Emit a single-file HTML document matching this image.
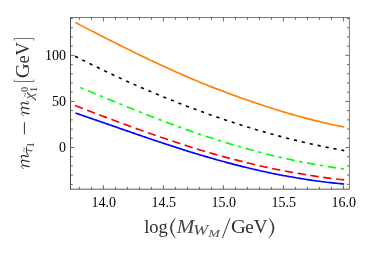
<!DOCTYPE html>
<html><head><meta charset="utf-8"><style>
html,body{margin:0;padding:0;background:#fff;}
body{width:374px;height:254px;overflow:hidden;}
svg{display:block;will-change:transform;}
text{font-family:"Liberation Serif",serif;fill:#2e2e2e;}
.tk{font-size:14px;fill:#000;}
.it{font-style:italic;fill:#444;}
</style></head><body>
<svg width="374" height="254" viewBox="0 0 374 254">
<rect width="374" height="254" fill="#fff"/>
<g>
<path d="M75.50 22.59 L77.43 23.60 L79.37 24.61 L81.30 25.61 L83.23 26.62 L85.17 27.62 L87.10 28.62 L89.03 29.61 L90.96 30.61 L92.90 31.60 L94.83 32.59 L96.76 33.58 L98.70 34.57 L100.63 35.55 L102.56 36.53 L104.50 37.51 L106.43 38.49 L108.36 39.47 L110.30 40.44 L112.23 41.41 L114.16 42.38 L116.09 43.34 L118.03 44.31 L119.96 45.28 L121.89 46.24 L123.83 47.20 L125.76 48.17 L127.69 49.12 L129.63 50.08 L131.56 51.03 L133.49 51.98 L135.43 52.92 L137.36 53.87 L139.29 54.81 L141.23 55.74 L143.16 56.68 L145.09 57.61 L147.02 58.53 L148.96 59.46 L150.89 60.38 L152.82 61.29 L154.76 62.21 L156.69 63.12 L158.62 64.03 L160.56 64.92 L162.49 65.81 L164.42 66.69 L166.36 67.57 L168.29 68.44 L170.22 69.31 L172.15 70.18 L174.09 71.04 L176.02 71.90 L177.95 72.75 L179.89 73.60 L181.82 74.45 L183.75 75.29 L185.69 76.13 L187.62 76.97 L189.55 77.80 L191.49 78.62 L193.42 79.45 L195.35 80.26 L197.28 81.08 L199.22 81.89 L201.15 82.69 L203.08 83.49 L205.02 84.29 L206.95 85.08 L208.88 85.85 L210.82 86.61 L212.75 87.37 L214.68 88.12 L216.62 88.87 L218.55 89.62 L220.48 90.35 L222.42 91.09 L224.35 91.82 L226.28 92.54 L228.21 93.26 L230.15 93.98 L232.08 94.69 L234.01 95.39 L235.95 96.09 L237.88 96.79 L239.81 97.48 L241.75 98.16 L243.68 98.84 L245.61 99.51 L247.55 100.18 L249.48 100.84 L251.41 101.50 L253.34 102.15 L255.28 102.81 L257.21 103.48 L259.14 104.13 L261.08 104.78 L263.01 105.43 L264.94 106.07 L266.88 106.70 L268.81 107.33 L270.74 107.95 L272.68 108.57 L274.61 109.18 L276.54 109.78 L278.47 110.38 L280.41 110.97 L282.34 111.56 L284.27 112.14 L286.21 112.71 L288.14 113.28 L290.07 113.84 L292.01 114.40 L293.94 114.95 L295.87 115.49 L297.81 116.03 L299.74 116.56 L301.67 117.09 L303.61 117.61 L305.54 118.12 L307.47 118.63 L309.40 119.13 L311.34 119.63 L313.27 120.12 L315.20 120.60 L317.14 121.07 L319.07 121.54 L321.00 122.00 L322.94 122.46 L324.87 122.91 L326.80 123.35 L328.74 123.78 L330.67 124.21 L332.60 124.63 L334.53 125.04 L336.47 125.45 L338.40 125.84 L340.33 126.23 L342.27 126.62 L344.20 126.99" fill="none" stroke="#ff7f00" stroke-width="1.65"/>
<path d="M75.10 56.26 L77.04 57.25 L78.97 58.23 L80.91 59.21 L82.84 60.18 L84.78 61.15 L86.72 62.12 L88.65 63.08 L90.59 64.03 L92.52 64.99 L94.46 65.94 L96.40 66.88 L98.33 67.82 L100.27 68.76 L102.20 69.69 L104.14 70.62 L106.08 71.54 L108.01 72.46 L109.95 73.37 L111.88 74.28 L113.82 75.19 L115.76 76.09 L117.69 76.99 L119.63 77.88 L121.56 78.77 L123.50 79.65 L125.44 80.53 L127.37 81.41 L129.31 82.28 L131.24 83.15 L133.18 84.01 L135.12 84.87 L137.05 85.72 L138.99 86.57 L140.92 87.42 L142.86 88.26 L144.79 89.10 L146.73 89.93 L148.67 90.76 L150.60 91.58 L152.54 92.40 L154.47 93.21 L156.41 94.02 L158.35 94.83 L160.28 95.63 L162.22 96.43 L164.15 97.22 L166.09 98.01 L168.03 98.79 L169.96 99.57 L171.90 100.34 L173.83 101.11 L175.77 101.88 L177.71 102.64 L179.64 103.40 L181.58 104.15 L183.51 104.90 L185.45 105.64 L187.39 106.38 L189.32 107.11 L191.26 107.84 L193.19 108.57 L195.13 109.29 L197.07 110.00 L199.00 110.71 L200.94 111.42 L202.87 112.12 L204.81 112.82 L206.75 113.51 L208.68 114.20 L210.62 114.89 L212.55 115.56 L214.49 116.24 L216.43 116.91 L218.36 117.57 L220.30 118.23 L222.23 118.89 L224.17 119.54 L226.11 120.19 L228.04 120.83 L229.98 121.47 L231.91 122.10 L233.85 122.73 L235.79 123.35 L237.72 123.97 L239.66 124.59 L241.59 125.20 L243.53 125.80 L245.47 126.40 L247.40 127.00 L249.34 127.59 L251.27 128.17 L253.21 128.75 L255.15 129.33 L257.08 129.90 L259.02 130.47 L260.95 131.03 L262.89 131.59 L264.83 132.14 L266.76 132.69 L268.70 133.23 L270.63 133.77 L272.57 134.30 L274.51 134.83 L276.44 135.36 L278.38 135.87 L280.31 136.39 L282.25 136.90 L284.18 137.40 L286.12 137.90 L288.06 138.40 L289.99 138.89 L291.93 139.37 L293.86 139.85 L295.80 140.33 L297.74 140.80 L299.67 141.27 L301.61 141.73 L303.54 142.18 L305.48 142.63 L307.42 143.08 L309.35 143.52 L311.29 143.96 L313.22 144.39 L315.16 144.82 L317.10 145.24 L319.03 145.65 L320.97 146.07 L322.90 146.47 L324.84 146.88 L326.78 147.27 L328.71 147.66 L330.65 148.05 L332.58 148.43 L334.52 148.81 L336.46 149.18 L338.39 149.55 L340.33 149.91 L342.26 150.27 L344.20 150.62" fill="none" stroke="#000000" stroke-width="1.6" stroke-dasharray="3.2 4.896"/>
<path d="M80.50 87.60 L82.40 88.39 L84.29 89.18 L86.19 89.98 L88.09 90.77 L89.99 91.56 L91.88 92.35 L93.78 93.14 L95.68 93.93 L97.57 94.71 L99.47 95.50 L101.37 96.28 L103.27 97.07 L105.16 97.85 L107.06 98.63 L108.96 99.41 L110.85 100.19 L112.75 100.97 L114.65 101.74 L116.55 102.52 L118.44 103.29 L120.34 104.06 L122.24 104.84 L124.13 105.61 L126.03 106.38 L127.93 107.15 L129.83 107.92 L131.72 108.68 L133.62 109.45 L135.52 110.21 L137.41 110.97 L139.31 111.72 L141.21 112.48 L143.11 113.23 L145.00 113.98 L146.90 114.73 L148.80 115.48 L150.69 116.22 L152.59 116.95 L154.49 117.68 L156.38 118.41 L158.28 119.14 L160.18 119.86 L162.08 120.58 L163.97 121.30 L165.87 122.01 L167.77 122.72 L169.66 123.43 L171.56 124.14 L173.46 124.84 L175.36 125.54 L177.25 126.24 L179.15 126.93 L181.05 127.63 L182.94 128.31 L184.84 129.00 L186.74 129.68 L188.64 130.36 L190.53 131.03 L192.43 131.71 L194.33 132.38 L196.22 133.04 L198.12 133.70 L200.02 134.36 L201.92 134.99 L203.81 135.61 L205.71 136.23 L207.61 136.84 L209.50 137.45 L211.40 138.06 L213.30 138.66 L215.20 139.26 L217.09 139.86 L218.99 140.45 L220.89 141.04 L222.78 141.62 L224.68 142.20 L226.58 142.78 L228.48 143.35 L230.37 143.92 L232.27 144.48 L234.17 145.04 L236.06 145.60 L237.96 146.16 L239.86 146.71 L241.76 147.26 L243.65 147.81 L245.55 148.35 L247.45 148.89 L249.34 149.42 L251.24 149.95 L253.14 150.47 L255.04 150.99 L256.93 151.50 L258.83 152.01 L260.73 152.51 L262.62 153.01 L264.52 153.50 L266.42 153.99 L268.32 154.47 L270.21 154.95 L272.11 155.40 L274.01 155.86 L275.90 156.30 L277.80 156.74 L279.70 157.18 L281.59 157.61 L283.49 158.04 L285.39 158.45 L287.29 158.87 L289.18 159.28 L291.08 159.68 L292.98 160.07 L294.87 160.46 L296.77 160.85 L298.67 161.23 L300.57 161.61 L302.46 161.99 L304.36 162.38 L306.26 162.75 L308.15 163.12 L310.05 163.49 L311.95 163.85 L313.85 164.20 L315.74 164.54 L317.64 164.88 L319.54 165.21 L321.43 165.54 L323.33 165.86 L325.23 166.17 L327.13 166.47 L329.02 166.77 L330.92 167.06 L332.82 167.35 L334.71 167.63 L336.61 167.90 L338.51 168.16 L340.41 168.42 L342.30 168.67 L344.20 168.92" fill="none" stroke="#00ff00" stroke-width="1.65" stroke-dasharray="3.3 4.72 8.48 4.52"/>
<path d="M75.05 105.59 L76.99 106.34 L78.92 107.08 L80.86 107.82 L82.80 108.56 L84.73 109.30 L86.67 110.04 L88.60 110.78 L90.54 111.52 L92.48 112.25 L94.41 112.98 L96.35 113.72 L98.29 114.45 L100.22 115.18 L102.16 115.91 L104.09 116.63 L106.03 117.36 L107.97 118.08 L109.90 118.81 L111.84 119.54 L113.78 120.27 L115.71 121.00 L117.65 121.72 L119.59 122.45 L121.52 123.17 L123.46 123.89 L125.39 124.61 L127.33 125.33 L129.27 126.04 L131.20 126.75 L133.14 127.47 L135.08 128.17 L137.01 128.87 L138.95 129.56 L140.89 130.25 L142.82 130.94 L144.76 131.62 L146.69 132.30 L148.63 132.98 L150.57 133.66 L152.50 134.33 L154.44 135.00 L156.38 135.67 L158.31 136.34 L160.25 137.00 L162.18 137.66 L164.12 138.32 L166.06 138.97 L167.99 139.63 L169.93 140.28 L171.87 140.92 L173.80 141.56 L175.74 142.20 L177.68 142.84 L179.61 143.48 L181.55 144.11 L183.48 144.73 L185.42 145.36 L187.36 145.98 L189.29 146.59 L191.23 147.21 L193.17 147.82 L195.10 148.43 L197.04 149.03 L198.98 149.63 L200.91 150.22 L202.85 150.79 L204.78 151.36 L206.72 151.92 L208.66 152.48 L210.59 153.04 L212.53 153.60 L214.47 154.14 L216.40 154.69 L218.34 155.23 L220.27 155.77 L222.21 156.30 L224.15 156.83 L226.08 157.36 L228.02 157.88 L229.96 158.40 L231.89 158.91 L233.83 159.42 L235.77 159.92 L237.70 160.42 L239.64 160.92 L241.57 161.41 L243.51 161.89 L245.45 162.37 L247.38 162.85 L249.32 163.32 L251.26 163.79 L253.19 164.25 L255.13 164.71 L257.07 165.16 L259.00 165.61 L260.94 166.06 L262.87 166.49 L264.81 166.93 L266.75 167.36 L268.68 167.78 L270.62 168.19 L272.56 168.59 L274.49 168.98 L276.43 169.37 L278.36 169.75 L280.30 170.13 L282.24 170.50 L284.17 170.87 L286.11 171.23 L288.05 171.58 L289.98 171.93 L291.92 172.28 L293.86 172.62 L295.79 172.95 L297.73 173.27 L299.66 173.60 L301.60 173.93 L303.54 174.27 L305.47 174.60 L307.41 174.92 L309.35 175.24 L311.28 175.55 L313.22 175.86 L315.16 176.15 L317.09 176.45 L319.03 176.73 L320.96 177.02 L322.90 177.29 L324.84 177.56 L326.77 177.82 L328.71 178.08 L330.65 178.32 L332.58 178.57 L334.52 178.80 L336.45 179.03 L338.39 179.26 L340.33 179.47 L342.26 179.68 L344.20 179.88" fill="none" stroke="#ff0000" stroke-width="1.65" stroke-dasharray="8.4 4.546"/>
<path d="M75.50 113.06 L77.43 113.72 L79.37 114.38 L81.30 115.04 L83.23 115.70 L85.17 116.36 L87.10 117.03 L89.03 117.69 L90.96 118.36 L92.90 119.02 L94.83 119.69 L96.76 120.35 L98.70 121.02 L100.63 121.69 L102.56 122.36 L104.50 123.02 L106.43 123.69 L108.36 124.36 L110.30 125.03 L112.23 125.71 L114.16 126.39 L116.09 127.07 L118.03 127.74 L119.96 128.42 L121.89 129.10 L123.83 129.78 L125.76 130.45 L127.69 131.13 L129.63 131.81 L131.56 132.48 L133.49 133.15 L135.43 133.83 L137.36 134.49 L139.29 135.15 L141.23 135.81 L143.16 136.46 L145.09 137.12 L147.02 137.77 L148.96 138.43 L150.89 139.08 L152.82 139.73 L154.76 140.38 L156.69 141.03 L158.62 141.67 L160.56 142.31 L162.49 142.96 L164.42 143.60 L166.36 144.23 L168.29 144.87 L170.22 145.50 L172.15 146.13 L174.09 146.76 L176.02 147.39 L177.95 148.02 L179.89 148.64 L181.82 149.26 L183.75 149.88 L185.69 150.49 L187.62 151.10 L189.55 151.71 L191.49 152.32 L193.42 152.91 L195.35 153.49 L197.28 154.07 L199.22 154.64 L201.15 155.21 L203.08 155.78 L205.02 156.35 L206.95 156.91 L208.88 157.47 L210.82 158.02 L212.75 158.58 L214.68 159.12 L216.62 159.67 L218.55 160.21 L220.48 160.75 L222.42 161.28 L224.35 161.81 L226.28 162.33 L228.21 162.85 L230.15 163.37 L232.08 163.88 L234.01 164.39 L235.95 164.89 L237.88 165.39 L239.81 165.88 L241.75 166.36 L243.68 166.84 L245.61 167.32 L247.55 167.79 L249.48 168.26 L251.41 168.72 L253.34 169.18 L255.28 169.63 L257.21 170.07 L259.14 170.52 L261.08 170.95 L263.01 171.38 L264.94 171.81 L266.88 172.23 L268.81 172.64 L270.74 173.05 L272.68 173.44 L274.61 173.83 L276.54 174.21 L278.47 174.59 L280.41 174.96 L282.34 175.33 L284.27 175.69 L286.21 176.04 L288.14 176.39 L290.07 176.73 L292.01 177.06 L293.94 177.39 L295.87 177.71 L297.81 178.03 L299.74 178.34 L301.67 178.66 L303.61 178.98 L305.54 179.29 L307.47 179.59 L309.40 179.89 L311.34 180.18 L313.27 180.47 L315.20 180.74 L317.14 181.01 L319.07 181.27 L321.00 181.53 L322.94 181.77 L324.87 182.01 L326.80 182.25 L328.74 182.47 L330.67 182.69 L332.60 182.90 L334.53 183.10 L336.47 183.29 L338.40 183.48 L340.33 183.66 L342.27 183.83 L344.20 183.99" fill="none" stroke="#0000ff" stroke-width="1.65"/>
</g>
<g stroke="#5a5a5a" stroke-width="0.9" fill="none">
<line x1="79.40" y1="189.2" x2="79.40" y2="186.79999999999998"/>
<line x1="79.40" y1="17.5" x2="79.40" y2="19.9"/>
<line x1="91.40" y1="189.2" x2="91.40" y2="186.79999999999998"/>
<line x1="91.40" y1="17.5" x2="91.40" y2="19.9"/>
<line x1="103.40" y1="189.2" x2="103.40" y2="185.2"/>
<line x1="103.40" y1="17.5" x2="103.40" y2="21.5"/>
<line x1="115.40" y1="189.2" x2="115.40" y2="186.79999999999998"/>
<line x1="115.40" y1="17.5" x2="115.40" y2="19.9"/>
<line x1="127.40" y1="189.2" x2="127.40" y2="186.79999999999998"/>
<line x1="127.40" y1="17.5" x2="127.40" y2="19.9"/>
<line x1="139.40" y1="189.2" x2="139.40" y2="186.79999999999998"/>
<line x1="139.40" y1="17.5" x2="139.40" y2="19.9"/>
<line x1="151.40" y1="189.2" x2="151.40" y2="186.79999999999998"/>
<line x1="151.40" y1="17.5" x2="151.40" y2="19.9"/>
<line x1="163.40" y1="189.2" x2="163.40" y2="185.2"/>
<line x1="163.40" y1="17.5" x2="163.40" y2="21.5"/>
<line x1="175.40" y1="189.2" x2="175.40" y2="186.79999999999998"/>
<line x1="175.40" y1="17.5" x2="175.40" y2="19.9"/>
<line x1="187.40" y1="189.2" x2="187.40" y2="186.79999999999998"/>
<line x1="187.40" y1="17.5" x2="187.40" y2="19.9"/>
<line x1="199.40" y1="189.2" x2="199.40" y2="186.79999999999998"/>
<line x1="199.40" y1="17.5" x2="199.40" y2="19.9"/>
<line x1="211.40" y1="189.2" x2="211.40" y2="186.79999999999998"/>
<line x1="211.40" y1="17.5" x2="211.40" y2="19.9"/>
<line x1="223.40" y1="189.2" x2="223.40" y2="185.2"/>
<line x1="223.40" y1="17.5" x2="223.40" y2="21.5"/>
<line x1="235.40" y1="189.2" x2="235.40" y2="186.79999999999998"/>
<line x1="235.40" y1="17.5" x2="235.40" y2="19.9"/>
<line x1="247.40" y1="189.2" x2="247.40" y2="186.79999999999998"/>
<line x1="247.40" y1="17.5" x2="247.40" y2="19.9"/>
<line x1="259.40" y1="189.2" x2="259.40" y2="186.79999999999998"/>
<line x1="259.40" y1="17.5" x2="259.40" y2="19.9"/>
<line x1="271.40" y1="189.2" x2="271.40" y2="186.79999999999998"/>
<line x1="271.40" y1="17.5" x2="271.40" y2="19.9"/>
<line x1="283.40" y1="189.2" x2="283.40" y2="185.2"/>
<line x1="283.40" y1="17.5" x2="283.40" y2="21.5"/>
<line x1="295.40" y1="189.2" x2="295.40" y2="186.79999999999998"/>
<line x1="295.40" y1="17.5" x2="295.40" y2="19.9"/>
<line x1="307.40" y1="189.2" x2="307.40" y2="186.79999999999998"/>
<line x1="307.40" y1="17.5" x2="307.40" y2="19.9"/>
<line x1="319.40" y1="189.2" x2="319.40" y2="186.79999999999998"/>
<line x1="319.40" y1="17.5" x2="319.40" y2="19.9"/>
<line x1="331.40" y1="189.2" x2="331.40" y2="186.79999999999998"/>
<line x1="331.40" y1="17.5" x2="331.40" y2="19.9"/>
<line x1="343.40" y1="189.2" x2="343.40" y2="185.2"/>
<line x1="343.40" y1="17.5" x2="343.40" y2="21.5"/>
<line x1="70.45" y1="184.36" x2="72.85000000000001" y2="184.36"/>
<line x1="349.4" y1="184.36" x2="347.0" y2="184.36"/>
<line x1="70.45" y1="175.14" x2="72.85000000000001" y2="175.14"/>
<line x1="349.4" y1="175.14" x2="347.0" y2="175.14"/>
<line x1="70.45" y1="165.93" x2="72.85000000000001" y2="165.93"/>
<line x1="349.4" y1="165.93" x2="347.0" y2="165.93"/>
<line x1="70.45" y1="156.71" x2="72.85000000000001" y2="156.71"/>
<line x1="349.4" y1="156.71" x2="347.0" y2="156.71"/>
<line x1="70.45" y1="147.50" x2="74.45" y2="147.50"/>
<line x1="349.4" y1="147.50" x2="345.4" y2="147.50"/>
<line x1="70.45" y1="138.29" x2="72.85000000000001" y2="138.29"/>
<line x1="349.4" y1="138.29" x2="347.0" y2="138.29"/>
<line x1="70.45" y1="129.07" x2="72.85000000000001" y2="129.07"/>
<line x1="349.4" y1="129.07" x2="347.0" y2="129.07"/>
<line x1="70.45" y1="119.86" x2="72.85000000000001" y2="119.86"/>
<line x1="349.4" y1="119.86" x2="347.0" y2="119.86"/>
<line x1="70.45" y1="110.64" x2="72.85000000000001" y2="110.64"/>
<line x1="349.4" y1="110.64" x2="347.0" y2="110.64"/>
<line x1="70.45" y1="101.43" x2="74.45" y2="101.43"/>
<line x1="349.4" y1="101.43" x2="345.4" y2="101.43"/>
<line x1="70.45" y1="92.22" x2="72.85000000000001" y2="92.22"/>
<line x1="349.4" y1="92.22" x2="347.0" y2="92.22"/>
<line x1="70.45" y1="83.00" x2="72.85000000000001" y2="83.00"/>
<line x1="349.4" y1="83.00" x2="347.0" y2="83.00"/>
<line x1="70.45" y1="73.79" x2="72.85000000000001" y2="73.79"/>
<line x1="349.4" y1="73.79" x2="347.0" y2="73.79"/>
<line x1="70.45" y1="64.57" x2="72.85000000000001" y2="64.57"/>
<line x1="349.4" y1="64.57" x2="347.0" y2="64.57"/>
<line x1="70.45" y1="55.36" x2="74.45" y2="55.36"/>
<line x1="349.4" y1="55.36" x2="345.4" y2="55.36"/>
<line x1="70.45" y1="46.15" x2="72.85000000000001" y2="46.15"/>
<line x1="349.4" y1="46.15" x2="347.0" y2="46.15"/>
<line x1="70.45" y1="36.93" x2="72.85000000000001" y2="36.93"/>
<line x1="349.4" y1="36.93" x2="347.0" y2="36.93"/>
<line x1="70.45" y1="27.72" x2="72.85000000000001" y2="27.72"/>
<line x1="349.4" y1="27.72" x2="347.0" y2="27.72"/>
<line x1="70.45" y1="18.50" x2="72.85000000000001" y2="18.50"/>
<line x1="349.4" y1="18.50" x2="347.0" y2="18.50"/>
</g>
<g fill="none">
<line x1="70.5" y1="17.05" x2="70.5" y2="189.7" stroke="#4c4c4c" stroke-width="1.05"/>
<line x1="70.45" y1="189.2" x2="349.84999999999997" y2="189.2" stroke="#5a5a5a" stroke-width="1"/>
<line x1="70.45" y1="17.5" x2="349.84999999999997" y2="17.5" stroke="#6a6a6a" stroke-width="0.9"/>
<line x1="349.4" y1="17.5" x2="349.4" y2="189.7" stroke="#6a6a6a" stroke-width="0.9"/>
</g>
<g>
<text x="103.80" y="207.2" text-anchor="middle" class="tk">14.0</text>
<text x="163.80" y="207.2" text-anchor="middle" class="tk">14.5</text>
<text x="223.80" y="207.2" text-anchor="middle" class="tk">15.0</text>
<text x="283.80" y="207.2" text-anchor="middle" class="tk">15.5</text>
<text x="343.80" y="207.2" text-anchor="middle" class="tk">16.0</text>
<text x="66" y="152.30" text-anchor="end" class="tk">0</text>
<text x="66" y="106.23" text-anchor="end" class="tk">50</text>
<text x="66" y="60.16" text-anchor="end" class="tk">100</text>
</g>
<!-- x label -->
<g font-size="18.5">
<text x="144.2" y="233">log</text>
<path d="M175.2,218.2 Q165.4,228 175.2,237.9 Q167.9,228 175.2,218.2 Z" fill="#333" stroke="#333" stroke-width="0.45" stroke-linejoin="round"/>
<text x="176.8" y="233" class="it" textLength="17.6" lengthAdjust="spacingAndGlyphs">M</text>
<text x="192.9" y="235.3" class="it" style="fill:#525252" font-size="14.2" textLength="15.2" lengthAdjust="spacingAndGlyphs">W</text>
<text x="208.2" y="237.4" class="it" style="fill:#525252" font-size="9.4" textLength="11.6" lengthAdjust="spacingAndGlyphs">M</text>
<line x1="222.4" y1="238" x2="229.9" y2="218.4" stroke="#333" stroke-width="0.95"/>
<text x="231.0" y="233" textLength="14.9" lengthAdjust="spacingAndGlyphs">G</text>
<text x="245.2" y="233" textLength="22.2" lengthAdjust="spacingAndGlyphs">eV</text>
<path d="M269.2,218.2 Q279.0,228 269.2,237.9 Q276.5,228 269.2,218.2 Z" fill="#333" stroke="#333" stroke-width="0.45" stroke-linejoin="round"/>
</g>
<!-- y label -->
<g transform="translate(29,169.2) rotate(-90)" font-size="18.5">
<g transform="translate(0,0)" fill="none" stroke="#2a2a2a" stroke-linecap="round" stroke-linejoin="round"><path d="M0.7,-5.6 Q1.7,-8 3.0,-7.8 Q4.2,-7.5 3.8,-5.6 M3.8,-5.6 Q5.9,-8.2 7.7,-7.8 M8.7,-5.4 Q10.7,-8.2 12.5,-7.8 M12.5,-1.4 Q12.2,0.1 13.3,0 Q14.4,-0.2 15,-2.3" stroke-width="0.65"/><path d="M3.9,-6.2 L2.5,0 M7.7,-7.8 Q9.1,-7.4 8.7,-5.4 L7.5,0 M12.5,-7.8 Q13.9,-7.4 13.5,-5.4 L12.5,-1.4" stroke-width="1.25"/></g>
<g transform="translate(14.9,3.1)" fill="none" stroke="#333" stroke-linecap="round" stroke-linejoin="round"><path d="M0.3,-4.4 Q1.0,-5.7 2.4,-5.6 L7.3,-5.6" stroke-width="1.0"/><path d="M4.4,-5.6 L3.3,-1.0 Q3.1,0 4.1,-0.1" stroke-width="0.9"/></g>
<text x="17.4" y="-1.9" font-size="8">~</text>
<text x="21.6" y="5.2" font-size="10.6">1</text>
<rect x="34.8" y="-5.1" width="12.1" height="1" fill="#333"/>
<g transform="translate(52.9,0)" fill="none" stroke="#2a2a2a" stroke-linecap="round" stroke-linejoin="round"><path d="M0.7,-5.6 Q1.7,-8 3.0,-7.8 Q4.2,-7.5 3.8,-5.6 M3.8,-5.6 Q5.9,-8.2 7.7,-7.8 M8.7,-5.4 Q10.7,-8.2 12.5,-7.8 M12.5,-1.4 Q12.2,0.1 13.3,0 Q14.4,-0.2 15,-2.3" stroke-width="0.65"/><path d="M3.9,-6.2 L2.5,0 M7.7,-7.8 Q9.1,-7.4 8.7,-5.4 L7.5,0 M12.5,-7.8 Q13.9,-7.4 13.5,-5.4 L12.5,-1.4" stroke-width="1.25"/></g>
<text x="69.8" y="3.6" class="it" font-size="12.8" textLength="7.2" lengthAdjust="spacingAndGlyphs">χ</text>
<text x="72.2" y="-1.5" font-size="8">~</text>
<text x="77.4" y="-0.6" font-size="9.6">0</text>
<text x="77.4" y="8" font-size="9.6">1</text>
<text x="91.0" y="0" textLength="14.9" lengthAdjust="spacingAndGlyphs">G</text>
<text x="105.6" y="0">eV</text>
</g>
<path d="M14.3 79.6 V81.5 H33.8 V79.6 M14.3 40.6 V38.5 H33.8 V40.6" fill="none" stroke="#5a5a5a" stroke-width="0.85"/>
</svg>
</body></html>
